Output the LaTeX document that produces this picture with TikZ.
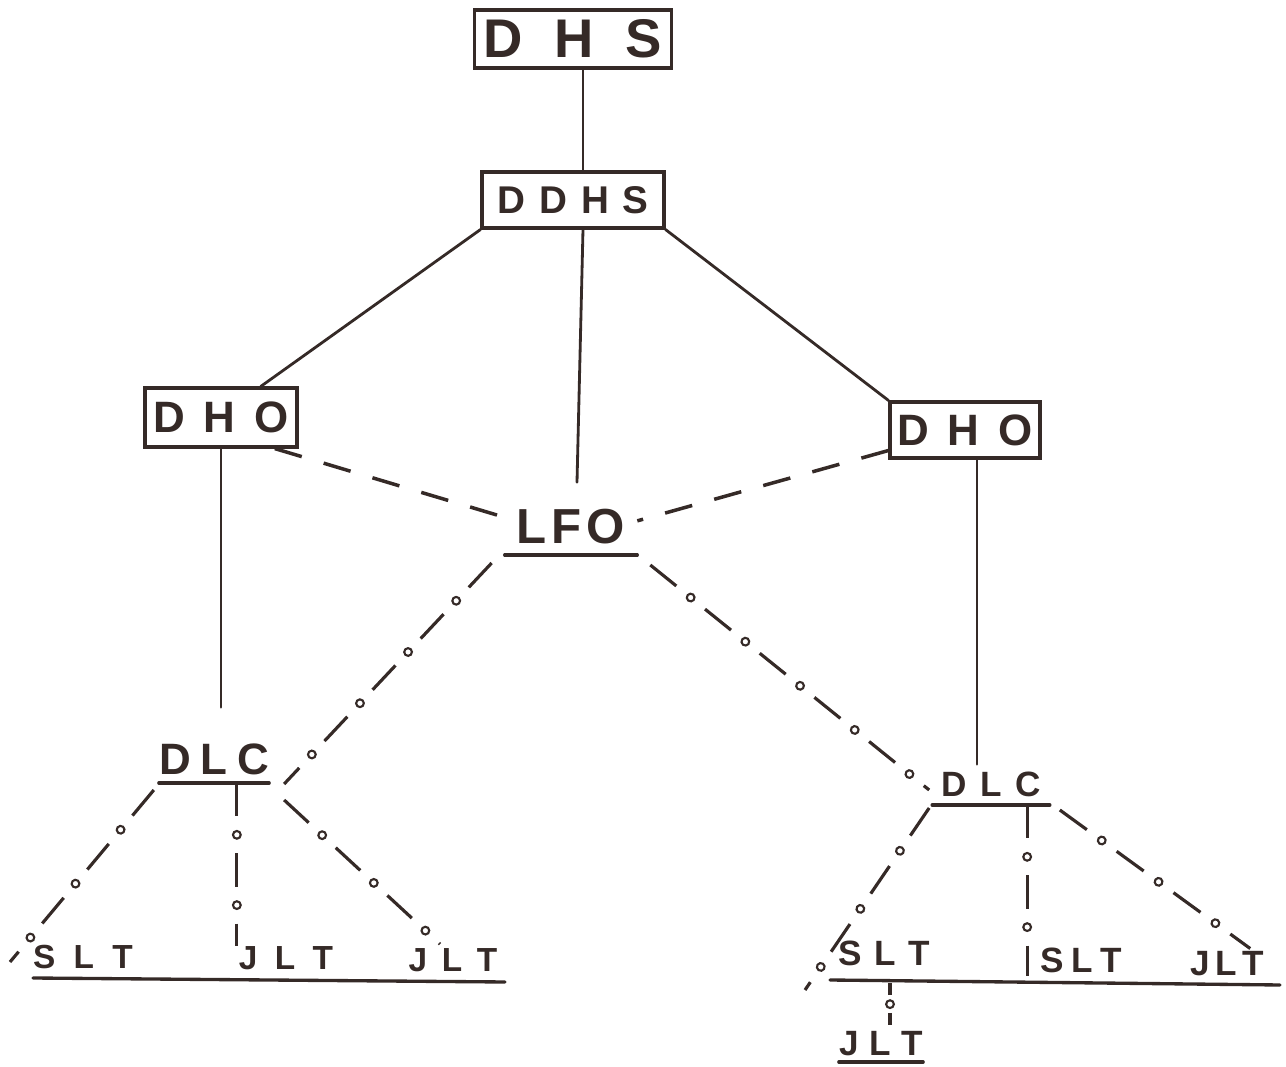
\documentclass[tikz,border=0pt]{standalone}
\usepackage{fontspec}
\setmainfont{Liberation Sans}
\usetikzlibrary{calc,decorations.markings}
\definecolor{ink}{HTML}{352A27}

\begin{document}
\begin{tikzpicture}[x=0.02cm, y=-0.02cm,
  framebox/.style={draw=ink, line width=1.8pt, inner sep=0pt, text=ink, text depth=0pt},
  tagnode/.style={inner sep=0pt, text=ink, text depth=0pt},
  link/.style={draw=ink, line width=1.6pt, line cap=round},
  rule/.style={draw=ink, line width=1.9pt, line cap=round},
  dashlink/.style={draw=ink, line width=2pt, dash pattern=on 16pt off 13pt},
  dotlink/.style={draw=ink, line width=1.8pt, dash pattern=on 19pt off 21pt,
    postaction={decorate},
    decoration={markings, mark=between positions 29.5pt and 1 step 40pt with
      {\draw[solid, ink, fill=white, line width=1.2pt] (0,0) circle (2.2pt);}}},
  shortdot/.style={draw=ink, line width=1.8pt, dash pattern=on 7pt off 10pt,
    postaction={decorate},
    decoration={markings, mark=at position 0.5 with
      {\draw[solid, ink, fill=white, line width=1.2pt] (0,0) circle (2.2pt);}}},
  f31/.style={font=\fontsize{31}{31}\selectfont\bfseries, text height=21.3pt},
  f28/.style={font=\fontsize{28}{28}\selectfont\bfseries, text height=19.3pt},
  f25/.style={font=\fontsize{25}{25}\selectfont\bfseries, text height=17.2pt},
  f22/.style={font=\fontsize{22}{22}\selectfont\bfseries, text height=15.1pt},
  f20/.style={font=\fontsize{20}{20}\selectfont\bfseries, text height=13.8pt},
  f19/.style={font=\fontsize{19}{19}\selectfont\bfseries, text height=13.1pt}]

\useasboundingbox (0,0) rectangle (1286,1067);

% ---- boxed offices
\node[framebox, f31, minimum width=3.94cm, minimum height=1.16cm] (dhs) at (573,39)
  {D\hspace{.58em}H\hspace{.58em}S};
\node[framebox, f22, minimum width=3.64cm, minimum height=1.12cm] (ddhs) at (573,200)
  {D\hspace{.36em}D\hspace{.36em}H\hspace{.36em}S};
\node[framebox, f25, minimum width=3.04cm, minimum height=1.18cm] (dhoL) at (221,417.5)
  {D\hspace{.42em}H\hspace{.42em}O};
\node[framebox, f25, minimum width=3.0cm, minimum height=1.12cm] (dhoR) at (965,430)
  {D\hspace{.42em}H\hspace{.42em}O};

% ---- underlined offices (node bottom edge is the underline)
\node[tagnode, f28, anchor=south, minimum width=2.64cm, minimum height=1.12cm] (lfo) at (571,555)
  {L\hspace{.1em}F\hspace{.1em}O};
\node[tagnode, f25, anchor=south, minimum width=2.16cm, minimum height=0.92cm] (dlcL) at (214,783)
  {D\hspace{.22em}L\hspace{.22em}C};
\node[tagnode, f20, anchor=south, minimum width=2.34cm, minimum height=0.8cm] (dlcR) at (991,805)
  {D\hspace{.38em}L\hspace{.38em}C};
\node[tagnode, f20, anchor=south, minimum width=1.46cm, minimum height=0.72cm] (jltB) at (881,1062)
  {J\hspace{.3em}L\hspace{.3em}T};
\draw[rule] (lfo.south west) -- (lfo.south east);
\draw[rule] (dlcL.south west) -- (dlcL.south east);
\draw[rule] (dlcR.south west) -- (dlcR.south east);
\draw[rule] (jltB.south west) -- (jltB.south east);

% ---- field staff
\node[tagnode, f19] (sltL)  at (83,957)   {S\hspace{.55em}L\hspace{.55em}T};
\node[tagnode, f19] (jltL1) at (286,958)  {J\hspace{.52em}L\hspace{.52em}T};
\node[tagnode, f19] (jltL2) at (453,960)  {J\hspace{.44em}L\hspace{.44em}T};
\node[tagnode, f20] (sltR1) at (884,953)  {S\hspace{.36em}L\hspace{.36em}T};
\node[tagnode, f20] (sltR2) at (1081,960) {S\hspace{.22em}L\hspace{.22em}T};
\node[tagnode, f20] (jltR)  at (1227,963) {J\hspace{.16em}L\hspace{.16em}T};

% group baselines
\coordinate (baseL1) at (33,978);
\coordinate (baseL2) at (505,982);
\coordinate (baseR1) at (830,980);
\coordinate (baseR2) at (1280,985);
\draw[rule] (baseL1) -- (baseL2);
\draw[rule] (baseR1) -- (baseR2);

% ---- line of command (solid)
\draw[link] ($(dhs.south)+(10,0)$) -- ($(ddhs.north)+(10,0)$);
\draw[link] (ddhs.south west) -- (dhoL.38);
\draw[link] (ddhs.south east) -- (dhoR.north west);
\draw[link] ($(ddhs.south)+(10,0)$) -- ($(lfo.north)+(6,-16)$);
\draw[link] (dhoL.south) -- ($(dhoL.south |- dlcL.north)+(0,-29)$);
\coordinate (vR) at ($(dhoR.south)+(12,0)$);
\draw[link] (vR) -- (vR |- dlcR.north);

% ---- coordination (dashed)
\draw[dashlink] (dhoL.-30) -- (lfo.172);
\draw[dashlink] (dhoR.195) -- (lfo.5);

% ---- technical supervision (dash and dot)
\draw[dotlink] ($(lfo.south west)+(-13,8)$) -- ($(dlcL.south east)+(15,1)$);
\draw[dotlink] ($(lfo.south east)+(13,10)$) -- ($(dlcR.south west)+(-3,-15)$);

\coordinate (endL) at (10,962);
\draw[dotlink] ($(dlcL.south west)+(-5,7)$) -- (endL);
\coordinate (tapL) at ($(dlcL.south west)+(78,0)$);
\draw[dotlink] (tapL) -- (tapL |- jltL1.north);
\draw[dotlink] ($(dlcL.south east)+(15,17)$) -- ($(jltL2.north)+(-13,-4)$);

\coordinate (endR) at (805,990);
\draw[dotlink] ($(dlcR.south west)+(-3,3)$) -- (endR);
\coordinate (tapR) at ($(dlcR.south west)+(95,0)$);
\draw[dotlink] (tapR) -- ($(tapR |- baseR1)+(0,-4)$);
\draw[dotlink] ($(dlcR.south east)+(10,5)$) -- ($(jltR.north east)+(-14,-2)$);

\coordinate (tapB) at (890,983);
\draw[shortdot] (tapB) -- (tapB |- jltB.north);
\end{tikzpicture}
\end{document}
